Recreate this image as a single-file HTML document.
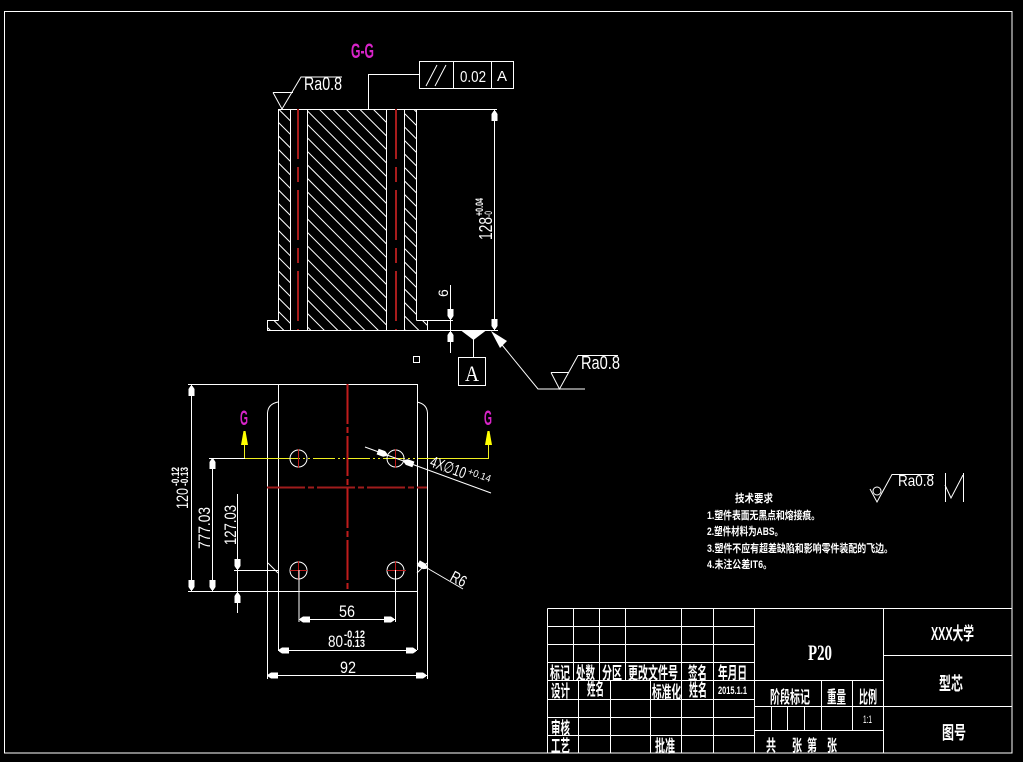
<!DOCTYPE html>
<html><head><meta charset="utf-8"><style>
html,body{margin:0;padding:0;background:#000;width:1023px;height:762px;overflow:hidden}
svg{display:block}
text{fill:#fff;font-family:"Liberation Sans",sans-serif}
.c text,text.c{font-family:"Liberation Sans","Noto Sans CJK SC",sans-serif;font-weight:700}
.l{fill:none;stroke:#fff;stroke-width:1;shape-rendering:crispEdges}
.d{fill:none;stroke:#fff;stroke-width:1}
.r{fill:none;stroke:#a81c1c;stroke-width:2;shape-rendering:crispEdges}
.m{fill:#d824c8;font-weight:700}
</style></head><body>
<svg width="1023" height="762" viewBox="0 0 1023 762" xmlns="http://www.w3.org/2000/svg">
<defs>
<path id="a" d="M-1 0H1L3 3V10H-3V3Z" fill="#fff"/>
<path id="y" d="M-1 0H1L3.5 14H-3.5Z" fill="#ffff00"/>
<clipPath id="hc"><path d="M267 320H278V109H290V330H267ZM307 109H386V330H307ZM404 109H416V320H427V330H404Z"/></clipPath>
</defs>
<rect width="1023" height="762" fill="#000"/>
<!-- frame -->
<rect x="4.5" y="11.5" width="1007.5" height="741.5" class="l"/>

<!-- section G-G -->
<text x="351" y="58" class="m" font-size="21" textLength="23" lengthAdjust="spacingAndGlyphs">G-G</text>
<g clip-path="url(#hc)"><path fill="none" stroke="#fff" stroke-width="1" d="M40 100L280 340M53.5 100L293.5 340M67 100L307 340M80.5 100L320.5 340M94 100L334 340M107.5 100L347.5 340M121 100L361 340M134.5 100L374.5 340M148 100L388 340M161.5 100L401.5 340M175 100L415 340M188.5 100L428.5 340M202 100L442 340M215.5 100L455.5 340M229 100L469 340M242.5 100L482.5 340M256 100L496 340M269.5 100L509.5 340M283 100L523 340M296.5 100L536.5 340M310 100L550 340M323.5 100L563.5 340M337 100L577 340M350.5 100L590.5 340M364 100L604 340M377.5 100L617.5 340M391 100L631 340M404.5 100L644.5 340M418 100L658 340"/></g>
<path class="l" d="M278.5 109.5H497M278.5 109.5V320.5M290.5 109.5V330M307.5 109.5V330M386.5 109.5V330M404.5 109.5V330M416.5 109.5V320.5M278.5 320.5H267.5V330.5H498M416.5 320.5H453M427.5 320.5V330"/>
<path class="r" stroke-dasharray="50 8 15 8" d="M298 109V330M396 109V330"/>
<!-- feature control frame -->
<path class="l" d="M368.5 109V74.5H419"/>
<rect x="419.5" y="61.5" width="94" height="27" class="l"/>
<path class="l" d="M453.5 62V88M491.5 62V88"/>
<path class="d" d="M426 86L437 65M435 86L446 65"/>
<text x="460" y="82" font-size="16" textLength="26" lengthAdjust="spacingAndGlyphs">0.02</text>
<text x="497" y="81" font-size="15">A</text>
<!-- Ra top -->
<path class="d" d="M273 92.5H293M273 92.5L282 109L301 77H342"/>
<text x="304" y="90" font-size="18" textLength="38" lengthAdjust="spacingAndGlyphs">Ra0.8</text>
<!-- dim 128 -->
<path class="l" d="M494.5 110V330"/>
<use href="#a" transform="translate(494.5,111)"/>
<use href="#a" transform="translate(494.5,329) rotate(180)"/>
<text transform="translate(492,240) rotate(-90)" font-size="18" textLength="23" lengthAdjust="spacingAndGlyphs">128</text>
<text transform="translate(483,216) rotate(-90)" font-size="11" textLength="18" lengthAdjust="spacingAndGlyphs" font-weight="700">+0.04</text>
<text transform="translate(492,217) rotate(-90)" font-size="11" textLength="6" lengthAdjust="spacingAndGlyphs">-0</text>
<!-- dim 6 -->
<path class="l" d="M450.5 285V353"/>
<use href="#a" transform="translate(450.5,319) rotate(180)"/>
<use href="#a" transform="translate(450.5,332)"/>
<text transform="translate(448,297) rotate(-90)" font-size="14">6</text>
<!-- datum A -->
<path d="M461 330.5H486L473.5 340Z" fill="#fff"/>
<path class="l" d="M473.5 339V357"/>
<rect x="458.5" y="357.5" width="27" height="28" class="l"/>
<text x="465" y="381" font-size="22" style="font-family:'Liberation Serif',serif" textLength="14" lengthAdjust="spacingAndGlyphs">A</text>
<rect x="413.5" y="356.5" width="6" height="6" class="l"/>
<!-- Ra right -->
<path d="M491 331L507 341L500 348Z" fill="#fff"/>
<path class="d" d="M498 340L538 389H585"/>
<path class="d" d="M551 372.5H569M551 372.5L559.5 389L578 355.5H618"/>
<text x="581" y="369" font-size="18" textLength="39" lengthAdjust="spacingAndGlyphs">Ra0.8</text>

<!-- front view -->
<path class="l" d="M188 384.5H417.5V650M278.5 384.5V650M188 591.5H417.5"/>
<path class="d" d="M278 402Q268 404 267.5 413V679M417 402Q427 404 427.5 413V679"/>
<path class="d" d="M268 563L278 573M417 573L427 563M417 563L427 568"/>
<!-- centre lines -->
<path class="r" style="stroke:#c01c1c" stroke-dasharray="40 3 6 3" d="M347.5 384V591"/>
<path class="r" style="stroke:#a01c1c" stroke-dasharray="38 3 6 3" d="M267 487.5H427"/>
<path d="M244.5 458.5H278M430 458.5H488.5V440M244.5 458.5V440" fill="none" stroke="#f0f020" stroke-width="1" shape-rendering="crispEdges"/>
<path d="M278 458.5H430" fill="none" stroke="#f0f020" stroke-width="1" stroke-dasharray="22 3 2 3 2 3" shape-rendering="crispEdges"/>
<use href="#y" transform="translate(244.5,431)"/>
<use href="#y" transform="translate(488.5,431)"/>
<text x="244" y="425" text-anchor="middle" class="m" font-size="21" textLength="8" lengthAdjust="spacingAndGlyphs">G</text>
<text x="488" y="425" text-anchor="middle" class="m" font-size="21" textLength="8" lengthAdjust="spacingAndGlyphs">G</text>
<!-- holes -->
<g fill="none" stroke="#fff" stroke-width="1">
<circle cx="298.5" cy="458.5" r="8.5"/><circle cx="395.5" cy="458.5" r="8.5"/>
<circle cx="298.5" cy="570.5" r="8.5"/><circle cx="395.5" cy="570.5" r="8.5"/>
</g>
<path class="r" d="M298.5 449V468M395.5 449V468M298.5 561V580M395.5 561V580M290 570.5H307M387 570.5H406" style="stroke-width:1;stroke:#c01c1c"/>
<!-- left dims -->
<path class="l" d="M191.5 385V591M212.5 458V591M209 458.5H245M237.5 494V613M234 570.5H278M299 570V622M395.5 570V622"/>
<use href="#a" transform="translate(191.5,386)"/>
<use href="#a" transform="translate(191.5,590) rotate(180)"/>
<use href="#a" transform="translate(212.5,459)"/>
<use href="#a" transform="translate(212.5,590) rotate(180)"/>
<use href="#a" transform="translate(237.5,569) rotate(180)"/>
<use href="#a" transform="translate(237.5,593)"/>
<text transform="translate(188,509) rotate(-90)" font-size="17" textLength="21" lengthAdjust="spacingAndGlyphs">120</text>
<text transform="translate(179,486) rotate(-90)" font-size="11" textLength="19" lengthAdjust="spacingAndGlyphs" font-weight="700">-0.12</text>
<text transform="translate(188,486) rotate(-90)" font-size="11" textLength="19" lengthAdjust="spacingAndGlyphs" font-weight="700">-0.13</text>
<text transform="translate(210,549) rotate(-90)" font-size="17" textLength="42" lengthAdjust="spacingAndGlyphs">777.03</text>
<text transform="translate(236,545) rotate(-90)" font-size="17" textLength="40" lengthAdjust="spacingAndGlyphs">127.03</text>
<!-- bottom dims -->
<path class="l" d="M299 619.5H395M278 650.5H417M267 675.5H427"/>
<use href="#a" transform="translate(300,619.5) rotate(-90)"/>
<use href="#a" transform="translate(394,619.5) rotate(90)"/>
<use href="#a" transform="translate(279,650.5) rotate(-90)"/>
<use href="#a" transform="translate(416,650.5) rotate(90)"/>
<use href="#a" transform="translate(268,675.5) rotate(-90)"/>
<use href="#a" transform="translate(426,675.5) rotate(90)"/>
<text x="339" y="617" font-size="17" textLength="16" lengthAdjust="spacingAndGlyphs">56</text>
<text x="328" y="647" font-size="17" textLength="15" lengthAdjust="spacingAndGlyphs">80</text>
<text x="344" y="638" font-size="11" textLength="21" lengthAdjust="spacingAndGlyphs" font-weight="700">-0.12</text>
<text x="344" y="647" font-size="11" textLength="21" lengthAdjust="spacingAndGlyphs" font-weight="700">-0.13</text>
<text x="340" y="673" font-size="17" textLength="16" lengthAdjust="spacingAndGlyphs">92</text>
<!-- 4X leader -->
<path class="d" d="M365 447L491 493"/>
<use href="#a" transform="translate(387,455) rotate(110)"/>
<use href="#a" transform="translate(404,461) rotate(-70)"/>
<text transform="translate(429,466) rotate(20)" font-size="16" textLength="37" lengthAdjust="spacingAndGlyphs">4X∅10</text>
<text transform="translate(467,474) rotate(20)" font-size="10" textLength="24" lengthAdjust="spacingAndGlyphs">+0.14</text>
<!-- R6 -->
<path class="d" d="M427 568L463 589"/>
<use href="#a" transform="translate(427,568) rotate(120)"/>
<text transform="translate(449,580) rotate(28)" font-size="16" textLength="16" lengthAdjust="spacingAndGlyphs">R6</text>

<!-- tech notes -->
<g class="c" font-size="11">
<text x="735" y="502" textLength="38" lengthAdjust="spacingAndGlyphs">技术要求</text>
<text x="707" y="519" textLength="113" lengthAdjust="spacingAndGlyphs">1.塑件表面无黑点和熔接痕。</text>
<text x="707" y="535" textLength="76" lengthAdjust="spacingAndGlyphs">2.塑件材料为ABS。</text>
<text x="707" y="552" textLength="186" lengthAdjust="spacingAndGlyphs">3.塑件不应有超差缺陷和影响零件装配的飞边。</text>
<text x="707" y="568" textLength="65" lengthAdjust="spacingAndGlyphs">4.未注公差IT6。</text>
</g>
<path class="d" d="M870 489L877 502L892 474.5H934M884 489L877 502"/>
<circle cx="877" cy="491" r="4" fill="none" stroke="#fff"/>
<text x="898" y="486" font-size="16" textLength="36" lengthAdjust="spacingAndGlyphs">Ra0.8</text>
<path class="l" d="M945.5 473V502M963.5 473V502"/>
<path class="d" d="M945 485L951 498L963 475"/>

<!-- title block -->
<path class="l" d="M547.5 608.5H1012M547.5 626.5H755M547.5 644.5H755M547.5 662.5H755M547.5 680.5H883M547.5 699.5H755M547.5 717.5H755M547.5 735.5H755M755 706.5H1012M755 730.5H883M883 655.5H1012
M547.5 608.5V753M573.5 608.5V680M599.5 608.5V680M625.5 608.5V680M681.5 608.5V753M713.5 608.5V753M754.5 608.5V753M883.5 608.5V753
M578.5 680V753M610.5 680V753M650.5 680V753M821.5 680V730M852.5 680V730M771.5 706V730M787.5 706V730M804.5 706V730"/>
<g class="c" font-size="17">
<text x="550" y="679" textLength="20" lengthAdjust="spacingAndGlyphs">标记</text>
<text x="576" y="679" textLength="19" lengthAdjust="spacingAndGlyphs">处数</text>
<text x="602" y="679" textLength="20" lengthAdjust="spacingAndGlyphs">分区</text>
<text x="628" y="679" textLength="50" lengthAdjust="spacingAndGlyphs">更改文件号</text>
<text x="688" y="679" textLength="19" lengthAdjust="spacingAndGlyphs">签名</text>
<text x="718" y="679" textLength="29" lengthAdjust="spacingAndGlyphs">年月日</text>
<text x="551" y="697" textLength="19" lengthAdjust="spacingAndGlyphs">设计</text>
<text x="587" y="695" textLength="17" lengthAdjust="spacingAndGlyphs">姓名</text>
<text x="652" y="698" textLength="29" lengthAdjust="spacingAndGlyphs">标准化</text>
<text x="689" y="696" textLength="18" lengthAdjust="spacingAndGlyphs">姓名</text>
<text x="718" y="694" font-size="11" textLength="29" lengthAdjust="spacingAndGlyphs">2015.1.1</text>
<text x="551" y="734" textLength="19" lengthAdjust="spacingAndGlyphs">审核</text>
<text x="551" y="752" textLength="19" lengthAdjust="spacingAndGlyphs">工艺</text>
<text x="655" y="752" textLength="20" lengthAdjust="spacingAndGlyphs">批准</text>
<text x="770" y="703" textLength="40" lengthAdjust="spacingAndGlyphs">阶段标记</text>
<text x="827" y="703" textLength="19" lengthAdjust="spacingAndGlyphs">重量</text>
<text x="859" y="703" textLength="18" lengthAdjust="spacingAndGlyphs">比例</text>
<text x="766" y="751" font-size="16" textLength="10" lengthAdjust="spacingAndGlyphs">共</text>
<text x="792" y="751" font-size="16" textLength="10" lengthAdjust="spacingAndGlyphs">张</text>
<text x="807" y="751" font-size="16" textLength="10" lengthAdjust="spacingAndGlyphs">第</text>
<text x="827" y="751" font-size="16" textLength="10" lengthAdjust="spacingAndGlyphs">张</text>
<text x="931" y="640" font-size="18" textLength="43" lengthAdjust="spacingAndGlyphs">XXX大学</text>
<text x="939" y="690" font-size="18" textLength="24" lengthAdjust="spacingAndGlyphs">型芯</text>
<text x="942" y="739" font-size="18" textLength="24" lengthAdjust="spacingAndGlyphs">图号</text>
</g>
<text x="863" y="723" font-size="11" textLength="9" lengthAdjust="spacingAndGlyphs">1:1</text>
<text x="808" y="660" font-size="22" textLength="24" lengthAdjust="spacingAndGlyphs" font-weight="700" style="font-family:'Liberation Serif',serif">P20</text>
</svg>
</body></html>
